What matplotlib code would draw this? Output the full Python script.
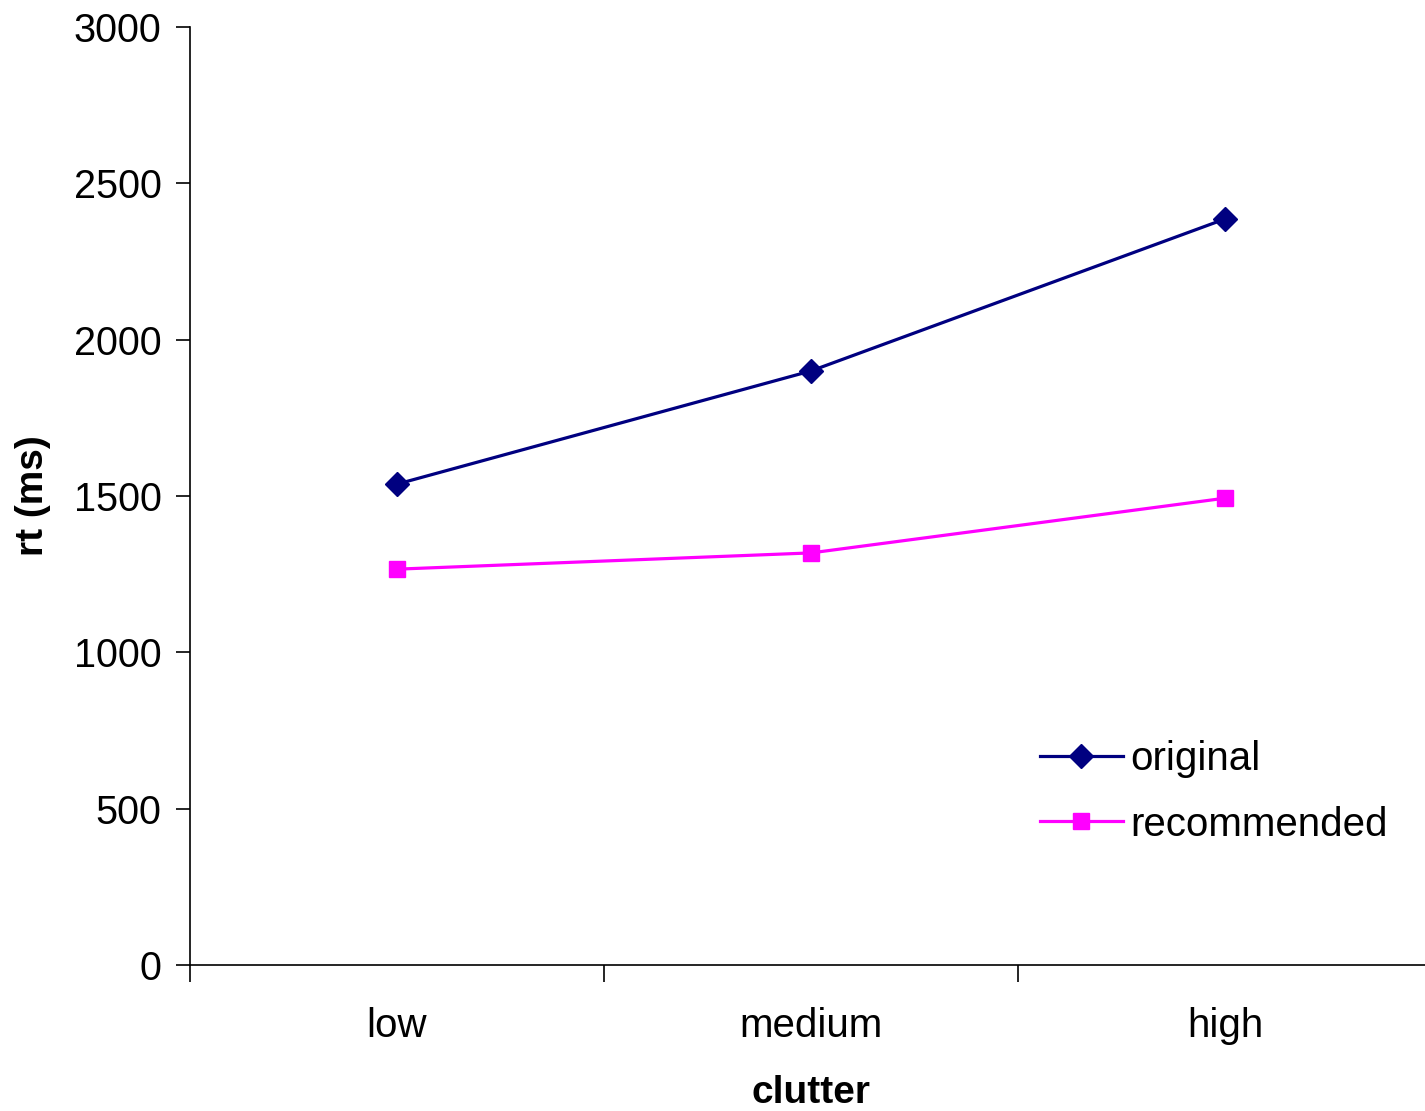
import matplotlib
matplotlib.use("Agg")
import matplotlib.pyplot as plt
from matplotlib.ticker import FixedLocator, NullFormatter

categories = ["low", "medium", "high"]
original = [1538, 1900, 2386]
recommended = [1266, 1318, 1493]
y_ticks = [0, 500, 1000, 1500, 2000, 2500, 3000]

plt.rcParams["font.family"] = ["Liberation Sans", "DejaVu Sans"]

W, H = 1425, 1111
fig = plt.figure(figsize=(W / 100, H / 100), dpi=100)
ax = fig.add_axes([190 / W, 1 - 965 / H, (1432 - 190) / W, (965 - 27) / H])

x = list(range(len(categories)))
ax.plot(x, original, color="#000080", lw=2.3, marker="D", ms=12,
        label="original", clip_on=False)
ax.plot(x, recommended, color="#FF00FF", lw=2.3, marker="s", ms=11,
        label="recommended", clip_on=False)

ax.set_xlim(-0.5, len(categories) - 0.5)
ax.set_ylim(0, 3000)
ax.set_yticks(y_ticks)
ax.set_xticks(x)
ax.set_xticklabels(categories)
ax.xaxis.set_minor_locator(FixedLocator([-0.5 + i for i in range(len(categories))]))
ax.xaxis.set_minor_formatter(NullFormatter())

ax.tick_params(axis="x", which="major", length=0, pad=30, labelsize=29)
ax.tick_params(axis="x", which="minor", length=12, width=1.2, direction="out")
ax.tick_params(axis="y", length=10, width=1.2, direction="out", pad=10.5, labelsize=28.5)

for side in ("top", "right"):
    ax.spines[side].set_visible(False)
for side in ("left", "bottom"):
    ax.spines[side].set_linewidth(1.2)

ax.set_ylabel("rt (ms)", fontsize=28, fontweight="bold", labelpad=16)
ax.set_xlabel("clutter", fontsize=28, fontweight="bold", labelpad=22)

ax.legend(loc="upper left", bbox_to_anchor=(1024 / W, 1 - 724 / H),
          bbox_transform=fig.transFigure, frameon=False, fontsize=29,
          handlelength=2.05, handletextpad=0.2, labelspacing=0.68,
          borderaxespad=0)

fig.savefig("out.png", dpi=100, facecolor="white")
